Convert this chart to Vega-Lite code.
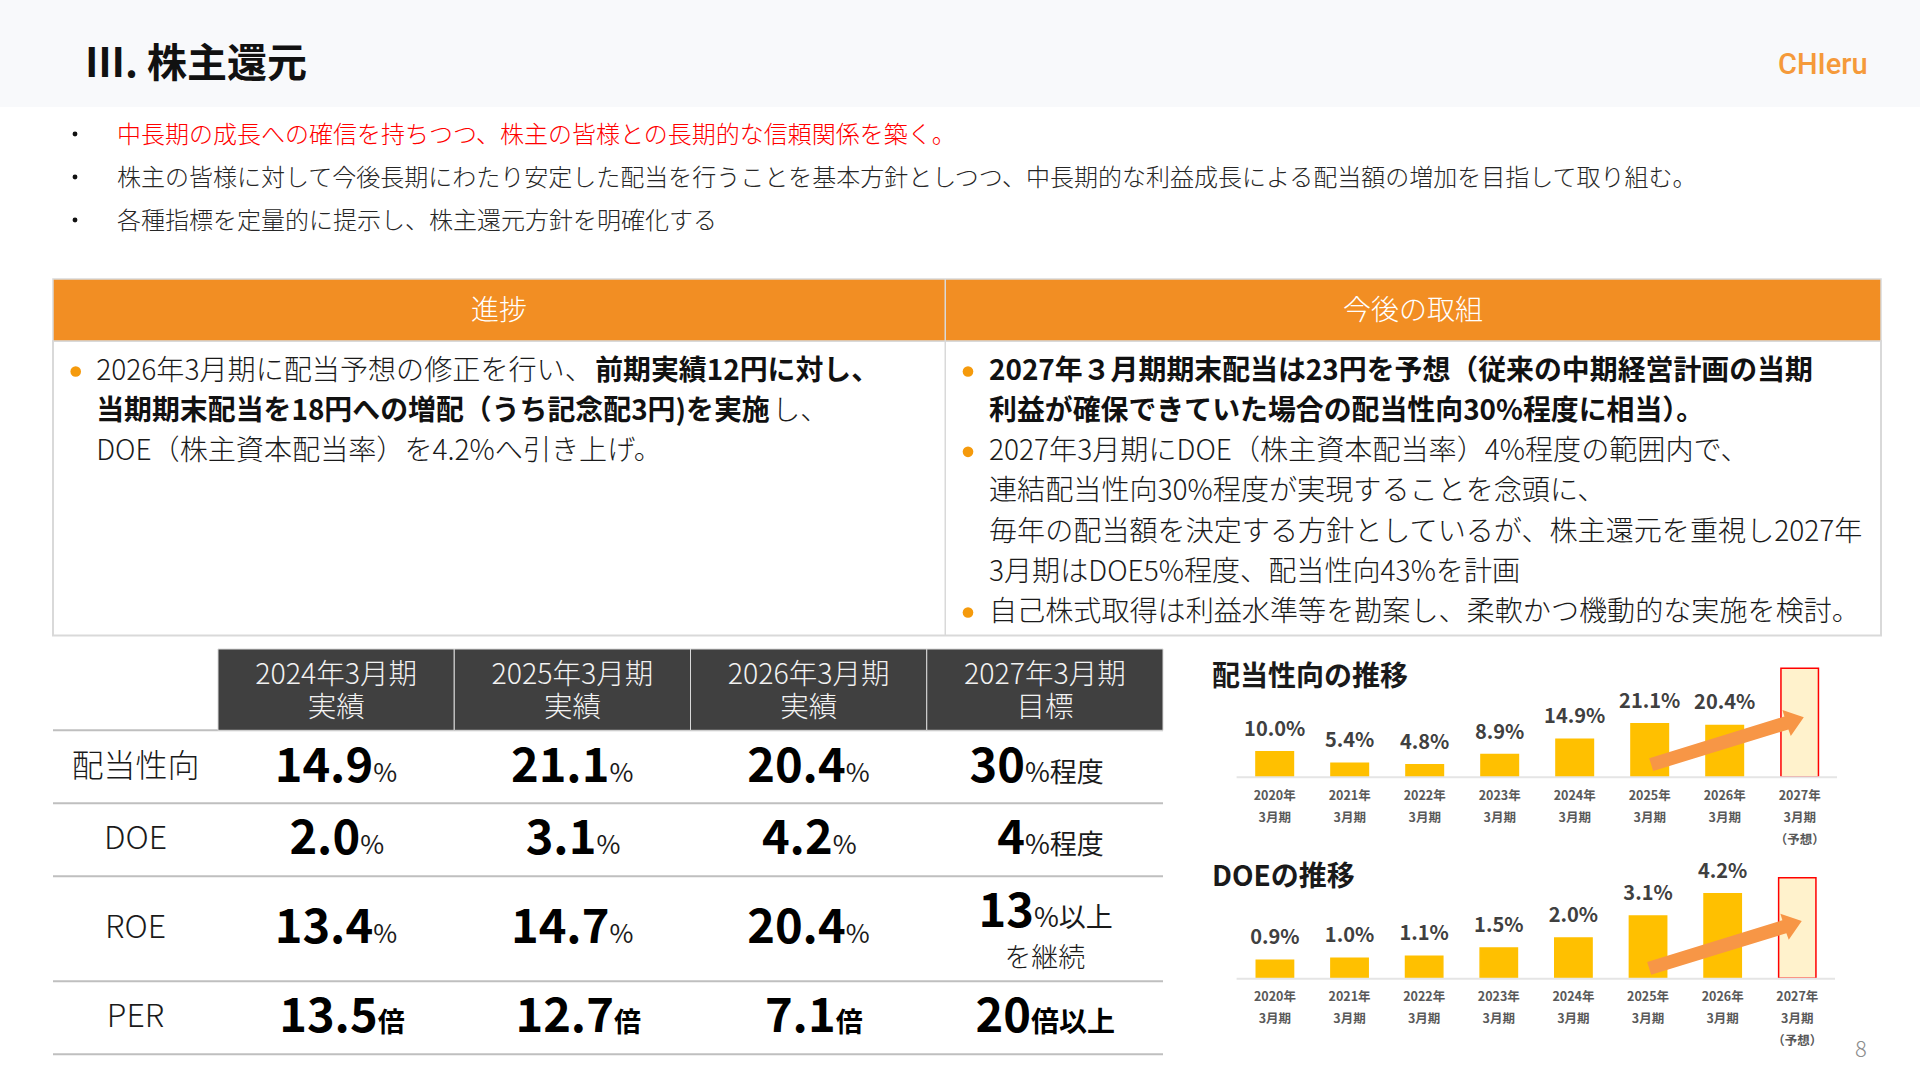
{
  "$schema": "https://vega.github.io/schema/vega-lite/v6.json",
  "width": 1920,
  "height": 1080,
  "padding": 0,
  "autosize": "none",
  "background": "#ffffff",
  "config": {"view": {"stroke": null}, "text": {"font": "Noto Sans CJK JP"}},
  "resolve": {"scale": {"x": "independent", "y": "independent"}},
  "datasets": {
    "periodLabels": [
      {"period": "2020", "row": "year", "label": "2020年"}, {"period": "2020", "row": "month", "label": "3月期"},
      {"period": "2021", "row": "year", "label": "2021年"}, {"period": "2021", "row": "month", "label": "3月期"},
      {"period": "2022", "row": "year", "label": "2022年"}, {"period": "2022", "row": "month", "label": "3月期"},
      {"period": "2023", "row": "year", "label": "2023年"}, {"period": "2023", "row": "month", "label": "3月期"},
      {"period": "2024", "row": "year", "label": "2024年"}, {"period": "2024", "row": "month", "label": "3月期"},
      {"period": "2025", "row": "year", "label": "2025年"}, {"period": "2025", "row": "month", "label": "3月期"},
      {"period": "2026", "row": "year", "label": "2026年"}, {"period": "2026", "row": "month", "label": "3月期"},
      {"period": "2027", "row": "year", "label": "2027年"}, {"period": "2027", "row": "month", "label": "3月期"},
      {"period": "2027", "row": "note", "label": "（予想）"}
    ],
    "payout": [
      {"period": "2020", "value": 10.0, "label": "10.0%", "status": "actual"},
      {"period": "2021", "value": 5.4, "label": "5.4%", "status": "actual"},
      {"period": "2022", "value": 4.8, "label": "4.8%", "status": "actual"},
      {"period": "2023", "value": 8.9, "label": "8.9%", "status": "actual"},
      {"period": "2024", "value": 14.9, "label": "14.9%", "status": "actual"},
      {"period": "2025", "value": 21.1, "label": "21.1%", "status": "actual"},
      {"period": "2026", "value": 20.4, "label": "20.4%", "status": "actual"},
      {"period": "2027", "value": 43, "label": "", "status": "forecast"}
    ],
    "doe": [
      {"period": "2020", "value": 0.9, "label": "0.9%", "status": "actual"},
      {"period": "2021", "value": 1.0, "label": "1.0%", "status": "actual"},
      {"period": "2022", "value": 1.1, "label": "1.1%", "status": "actual"},
      {"period": "2023", "value": 1.5, "label": "1.5%", "status": "actual"},
      {"period": "2024", "value": 2.0, "label": "2.0%", "status": "actual"},
      {"period": "2025", "value": 3.1, "label": "3.1%", "status": "actual"},
      {"period": "2026", "value": 4.2, "label": "4.2%", "status": "actual"},
      {"period": "2027", "value": 5, "label": "", "status": "forecast"}
    ]
  },
  "layer": [
    {
      "data": {"values": [{"part": "header"}]},
      "mark": {"type": "rect", "color": "#f8f9fb"},
      "encoding": {
        "x": {"field": "part", "type": "nominal", "axis": null, "scale": {"type": "band", "range": [0, 1920]}},
        "y": {"field": "part", "type": "nominal", "axis": null, "scale": {"type": "band", "range": [0, 107]}}
      }
    },
    {
      "data": {"values": [{"part": "title", "text": "Ⅲ. 株主還元"}]},
      "mark": {"type": "text", "align": "left", "baseline": "middle", "fontSize": 40, "fontWeight": "bold", "color": "#111111"},
      "encoding": {
        "x": {"field": "part", "type": "nominal", "axis": null, "scale": {"type": "point", "padding": 0, "align": 0, "range": [85, 900]}},
        "y": {"field": "part", "type": "nominal", "axis": null, "scale": {"type": "point", "padding": 0, "align": 0, "range": [64.5, 100]}},
        "text": {"field": "text"}
      }
    },
    {
      "data": {"values": [{"part": "logo", "text": "CHIeru"}]},
      "mark": {"type": "text", "align": "left", "baseline": "middle", "font": "Roboto", "fontSize": 29, "fontWeight": 500, "color": "#f59a3a"},
      "encoding": {
        "x": {"field": "part", "type": "nominal", "axis": null, "scale": {"type": "point", "padding": 0, "align": 0, "range": [1778, 1900]}},
        "y": {"field": "part", "type": "nominal", "axis": null, "scale": {"type": "point", "padding": 0, "align": 0, "range": [65, 100]}},
        "text": {"field": "text"}
      }
    },
    {
      "data": {"values": [{"line": "1"}, {"line": "2"}, {"line": "3"}]},
      "mark": {"type": "circle", "size": 24, "color": "#111111", "opacity": 1},
      "encoding": {
        "y": {"field": "line", "type": "nominal", "axis": null, "scale": {"type": "point", "padding": 0, "domain": ["1", "2", "3"], "range": [134, 220]}},
        "x": {"datum": "bullet", "type": "nominal", "axis": null, "scale": {"type": "point", "padding": 0, "align": 0, "range": [75, 100]}}
      }
    },
    {
      "data": {"values": [
        {"line": "1", "tone": "key", "text": "中長期の成長への確信を持ちつつ、株主の皆様との長期的な信頼関係を築く。"},
        {"line": "2", "tone": "plain", "text": "株主の皆様に対して今後長期にわたり安定した配当を行うことを基本方針としつつ、中長期的な利益成長による配当額の増加を目指して取り組む。"},
        {"line": "3", "tone": "plain", "text": "各種指標を定量的に提示し、株主還元方針を明確化する"}
      ]},
      "mark": {"type": "text", "align": "left", "baseline": "middle", "fontSize": 24, "fontWeight": 300},
      "encoding": {
        "x": {"datum": "lead", "type": "nominal", "axis": null, "scale": {"type": "point", "padding": 0, "align": 0, "range": [117, 1800]}},
        "y": {"field": "line", "type": "nominal", "axis": null, "scale": {"type": "point", "padding": 0, "domain": ["1", "2", "3"], "range": [135.5, 221.5]}},
        "color": {"field": "tone", "type": "nominal", "legend": null, "scale": {"domain": ["key", "plain"], "range": ["#ff0000", "#262626"]}},
        "text": {"field": "text"}
      }
    },
    {
      "data": {"values": [{"part": "body"}]},
      "mark": {"type": "rect", "color": "#ffffff", "stroke": "#d9d9d9", "strokeWidth": 2},
      "encoding": {
        "x": {"field": "part", "type": "nominal", "axis": null, "scale": {"type": "band", "range": [53, 1881]}},
        "y": {"field": "part", "type": "nominal", "axis": null, "scale": {"type": "band", "range": [341, 635.5]}}
      }
    },
    {
      "data": {"values": [{"part": "head"}]},
      "mark": {"type": "rect", "color": "#f28e23", "stroke": "#d9d9d9", "strokeWidth": 1.5},
      "encoding": {
        "x": {"field": "part", "type": "nominal", "axis": null, "scale": {"type": "band", "range": [53, 1881]}},
        "y": {"field": "part", "type": "nominal", "axis": null, "scale": {"type": "band", "range": [279, 341]}}
      }
    },
    {
      "data": {"values": [{"part": "divider"}]},
      "mark": {"type": "rect", "color": "#d9d9d9"},
      "encoding": {
        "x": {"field": "part", "type": "nominal", "axis": null, "scale": {"type": "band", "range": [944.5, 946]}},
        "y": {"field": "part", "type": "nominal", "axis": null, "scale": {"type": "band", "range": [279, 635]}}
      }
    },
    {
      "data": {"values": [{"col": "進捗"}, {"col": "今後の取組"}]},
      "mark": {"type": "text", "align": "center", "baseline": "middle", "fontSize": 28, "fontWeight": 300, "color": "#ffffff"},
      "encoding": {
        "x": {"field": "col", "type": "nominal", "axis": null, "scale": {"type": "point", "padding": 0, "domain": ["進捗", "今後の取組"], "range": [499, 1413]}},
        "y": {"datum": "head", "type": "nominal", "axis": null, "scale": {"type": "point", "padding": 0, "align": 0, "range": [311.5, 340]}},
        "text": {"field": "col"}
      }
    },
    {
      "data": {"values": [
        {"col": "進捗", "line": "1"},
        {"col": "今後の取組", "line": "1"},
        {"col": "今後の取組", "line": "3"},
        {"col": "今後の取組", "line": "7"}
      ]},
      "mark": {"type": "circle", "size": 113, "color": "#f59a0c", "opacity": 1},
      "encoding": {
        "x": {"field": "col", "type": "nominal", "axis": null, "scale": {"type": "point", "padding": 0, "domain": ["進捗", "今後の取組"], "range": [75.7, 968]}},
        "y": {"field": "line", "type": "nominal", "axis": null, "scale": {"type": "point", "padding": 0, "domain": ["1", "2", "3", "4", "5", "6", "7"], "range": [371.5, 612.5]}}
      }
    },
    {
      "data": {"values": [
        {"col": "進捗", "line": "1", "text": "2026年3月期に配当予想の修正を行い、"},
        {"col": "進捗", "line": "3", "text": "DOE（株主資本配当率）を4.2%へ引き上げ。"},
        {"col": "今後の取組", "line": "3", "text": "2027年3月期にDOE（株主資本配当率）4%程度の範囲内で、"},
        {"col": "今後の取組", "line": "4", "text": "連結配当性向30%程度が実現することを念頭に、"},
        {"col": "今後の取組", "line": "5", "text": "毎年の配当額を決定する方針としているが、株主還元を重視し2027年"},
        {"col": "今後の取組", "line": "6", "text": "3月期はDOE5%程度、配当性向43%を計画"},
        {"col": "今後の取組", "line": "7", "text": "自己株式取得は利益水準等を勘案し、柔軟かつ機動的な実施を検討。"}
      ]},
      "mark": {"type": "text", "align": "left", "baseline": "middle", "fontSize": 28.1, "fontWeight": 300, "color": "#1a1a1a"},
      "encoding": {
        "x": {"field": "col", "type": "nominal", "axis": null, "scale": {"type": "point", "padding": 0, "domain": ["進捗", "今後の取組"], "range": [96.2, 989]}},
        "y": {"field": "line", "type": "nominal", "axis": null, "scale": {"type": "point", "padding": 0, "domain": ["1", "2", "3", "4", "5", "6", "7"], "range": [371.5, 613]}},
        "text": {"field": "text"}
      }
    },
    {
      "data": {"values": [
        {"col": "進捗", "line": "2", "text": "当期期末配当を18円への増配（うち記念配3円)を実施"},
        {"col": "今後の取組", "line": "1", "text": "2027年３月期期末配当は23円を予想（従来の中期経営計画の当期"},
        {"col": "今後の取組", "line": "2", "text": "利益が確保できていた場合の配当性向30%程度に相当）。"}
      ]},
      "mark": {"type": "text", "align": "left", "baseline": "middle", "fontSize": 27.9, "fontWeight": "bold", "color": "#111111"},
      "encoding": {
        "x": {"field": "col", "type": "nominal", "axis": null, "scale": {"type": "point", "padding": 0, "domain": ["進捗", "今後の取組"], "range": [96.2, 989]}},
        "y": {"field": "line", "type": "nominal", "axis": null, "scale": {"type": "point", "padding": 0, "domain": ["1", "2", "3", "4", "5", "6", "7"], "range": [371.5, 613]}},
        "text": {"field": "text"}
      }
    },
    {
      "data": {"values": [{"col": "進捗", "line": "1", "text": "前期実績12円に対し、"}]},
      "mark": {"type": "text", "align": "left", "baseline": "middle", "fontSize": 27.9, "fontWeight": "bold", "color": "#111111", "dx": 499},
      "encoding": {
        "x": {"field": "col", "type": "nominal", "axis": null, "scale": {"type": "point", "padding": 0, "domain": ["進捗", "今後の取組"], "range": [96.2, 989]}},
        "y": {"field": "line", "type": "nominal", "axis": null, "scale": {"type": "point", "padding": 0, "domain": ["1", "2", "3", "4", "5", "6", "7"], "range": [371.5, 613]}},
        "text": {"field": "text"}
      }
    },
    {
      "data": {"values": [{"col": "進捗", "line": "2", "text": "し、"}]},
      "mark": {"type": "text", "align": "left", "baseline": "middle", "fontSize": 28, "fontWeight": 300, "color": "#1a1a1a", "dx": 676},
      "encoding": {
        "x": {"field": "col", "type": "nominal", "axis": null, "scale": {"type": "point", "padding": 0, "domain": ["進捗", "今後の取組"], "range": [96.2, 989]}},
        "y": {"field": "line", "type": "nominal", "axis": null, "scale": {"type": "point", "padding": 0, "domain": ["1", "2", "3", "4", "5", "6", "7"], "range": [371.5, 613]}},
        "text": {"field": "text"}
      }
    },
    {
      "data": {"values": [{"rule": "top"}, {"rule": "payout"}, {"rule": "doe"}]},
      "mark": {"type": "tick", "orient": "horizontal", "size": 1110, "thickness": 2, "color": "#bfbfbf", "opacity": 1},
      "encoding": {
        "x": {"datum": "table", "type": "nominal", "axis": null, "scale": {"type": "point", "padding": 0.5, "range": [53, 1163]}},
        "y": {"field": "rule", "type": "nominal", "axis": null, "scale": {"type": "point", "padding": 0, "domain": ["top", "payout", "doe"], "range": [730.3, 876.3]}}
      }
    },
    {
      "data": {"values": [{"rule": "roe"}, {"rule": "per"}]},
      "mark": {"type": "tick", "orient": "horizontal", "size": 1110, "thickness": 2, "color": "#bfbfbf", "opacity": 1},
      "encoding": {
        "x": {"datum": "table", "type": "nominal", "axis": null, "scale": {"type": "point", "padding": 0.5, "range": [53, 1163]}},
        "y": {"field": "rule", "type": "nominal", "axis": null, "scale": {"type": "point", "padding": 0, "domain": ["roe", "per"], "range": [981.3, 1054.3]}}
      }
    },
    {
      "data": {"values": [
        {"fiscal": "2024年3月期"}, {"fiscal": "2025年3月期"}, {"fiscal": "2026年3月期"}, {"fiscal": "2027年3月期"}
      ]},
      "mark": {"type": "rect", "color": "#404040", "stroke": "#d9d9d9", "strokeWidth": 1},
      "encoding": {
        "x": {"field": "fiscal", "type": "nominal", "axis": null, "scale": {"type": "band", "paddingInner": 0, "paddingOuter": 0, "range": [218, 1163]}},
        "y": {"datum": "head", "type": "nominal", "axis": null, "scale": {"type": "band", "range": [649, 730.3]}}
      }
    },
    {
      "data": {"values": [
        {"fiscal": "2024年3月期", "row": "fiscal", "text": "2024年3月期"},
        {"fiscal": "2025年3月期", "row": "fiscal", "text": "2025年3月期"},
        {"fiscal": "2026年3月期", "row": "fiscal", "text": "2026年3月期"},
        {"fiscal": "2027年3月期", "row": "fiscal", "text": "2027年3月期"},
        {"fiscal": "2024年3月期", "row": "kind", "text": "実績"},
        {"fiscal": "2025年3月期", "row": "kind", "text": "実績"},
        {"fiscal": "2026年3月期", "row": "kind", "text": "実績"},
        {"fiscal": "2027年3月期", "row": "kind", "text": "目標"}
      ]},
      "mark": {"type": "text", "align": "center", "baseline": "middle", "fontSize": 28.5, "fontWeight": 300, "color": "#f2f2f2"},
      "encoding": {
        "x": {"field": "fiscal", "type": "nominal", "axis": null, "scale": {"type": "band", "paddingInner": 0, "paddingOuter": 0, "range": [218, 1163]}},
        "y": {"field": "row", "type": "nominal", "axis": null, "scale": {"type": "point", "padding": 0, "domain": ["fiscal", "kind"], "range": [674.5, 707.5]}},
        "text": {"field": "text"}
      }
    },
    {
      "data": {"values": [{"metric": "配当性向"}, {"metric": "DOE"}, {"metric": "ROE"}, {"metric": "PER"}]},
      "mark": {"type": "text", "align": "center", "baseline": "alphabetic", "fontSize": 32, "fontWeight": 300, "color": "#1a1a1a", "dy": -6},
      "encoding": {
        "x": {"datum": "label", "type": "nominal", "axis": null, "scale": {"type": "point", "padding": 0.5, "range": [53, 218]}},
        "y": {"field": "metric", "type": "nominal", "axis": null, "scale": {"type": "point", "padding": 0, "domain": ["配当性向", "s1", "s2", "s3", "DOE", "s4", "s5", "s6", "s7", "ROE", "s8", "s9", "s10", "s11", "PER"], "range": [783, 1033.3]}},
        "text": {"field": "metric"}
      }
    },
    {
      "data": {"values": [
        {"fiscal": "2024年3月期", "metric": "配当性向", "value": "14.9"},
        {"fiscal": "2025年3月期", "metric": "配当性向", "value": "21.1"},
        {"fiscal": "2026年3月期", "metric": "配当性向", "value": "20.4"},
        {"fiscal": "2024年3月期", "metric": "ROE", "value": "13.4"},
        {"fiscal": "2025年3月期", "metric": "ROE", "value": "14.7"},
        {"fiscal": "2026年3月期", "metric": "ROE", "value": "20.4"}
      ]},
      "layer": [
        {"mark": {"type": "text", "align": "right", "baseline": "alphabetic", "fontSize": 47, "fontWeight": "bold", "color": "#000000", "dx": 37}, "encoding": {"text": {"field": "value"}}},
        {"mark": {"type": "text", "align": "left", "baseline": "alphabetic", "fontSize": 26, "fontWeight": 400, "color": "#1a1a1a", "dx": 37}, "encoding": {"text": {"value": "%"}}}
      ],
      "encoding": {
        "x": {"field": "fiscal", "type": "nominal", "axis": null, "scale": {"type": "band", "paddingInner": 0, "paddingOuter": 0, "domain": ["2024年3月期", "2025年3月期", "2026年3月期", "2027年3月期"], "range": [218, 1163]}},
        "y": {"field": "metric", "type": "nominal", "axis": null, "scale": {"type": "point", "padding": 0, "domain": ["配当性向", "s1", "s2", "s3", "DOE", "s4", "s5", "s6", "s7", "ROE", "s8", "s9", "s10", "s11", "PER"], "range": [782, 1032.3]}}
      }
    },
    {
      "data": {"values": [
        {"fiscal": "2024年3月期", "metric": "DOE", "value": "2.0"},
        {"fiscal": "2025年3月期", "metric": "DOE", "value": "3.1"},
        {"fiscal": "2026年3月期", "metric": "DOE", "value": "4.2"}
      ]},
      "layer": [
        {"mark": {"type": "text", "align": "right", "baseline": "alphabetic", "fontSize": 47, "fontWeight": "bold", "color": "#000000", "dx": 24}, "encoding": {"text": {"field": "value"}}},
        {"mark": {"type": "text", "align": "left", "baseline": "alphabetic", "fontSize": 26, "fontWeight": 400, "color": "#1a1a1a", "dx": 24}, "encoding": {"text": {"value": "%"}}}
      ],
      "encoding": {
        "x": {"field": "fiscal", "type": "nominal", "axis": null, "scale": {"type": "band", "paddingInner": 0, "paddingOuter": 0, "domain": ["2024年3月期", "2025年3月期", "2026年3月期", "2027年3月期"], "range": [218, 1163]}},
        "y": {"field": "metric", "type": "nominal", "axis": null, "scale": {"type": "point", "padding": 0, "domain": ["配当性向", "s1", "s2", "s3", "DOE", "s4", "s5", "s6", "s7", "ROE", "s8", "s9", "s10", "s11", "PER"], "range": [782, 1032.3]}}
      }
    },
    {
      "data": {"values": [
        {"fiscal": "2024年3月期", "metric": "PER", "value": "13.5"},
        {"fiscal": "2025年3月期", "metric": "PER", "value": "12.7"}
      ]},
      "layer": [
        {"mark": {"type": "text", "align": "right", "baseline": "alphabetic", "fontSize": 47, "fontWeight": "bold", "color": "#000000", "dx": 41.5}, "encoding": {"text": {"field": "value"}}},
        {"mark": {"type": "text", "align": "left", "baseline": "alphabetic", "fontSize": 27, "fontWeight": "bold", "color": "#000000", "dx": 41.5}, "encoding": {"text": {"value": "倍"}}}
      ],
      "encoding": {
        "x": {"field": "fiscal", "type": "nominal", "axis": null, "scale": {"type": "band", "paddingInner": 0, "paddingOuter": 0, "domain": ["2024年3月期", "2025年3月期", "2026年3月期", "2027年3月期"], "range": [218, 1163]}},
        "y": {"field": "metric", "type": "nominal", "axis": null, "scale": {"type": "point", "padding": 0, "domain": ["配当性向", "s1", "s2", "s3", "DOE", "s4", "s5", "s6", "s7", "ROE", "s8", "s9", "s10", "s11", "PER"], "range": [782, 1032.3]}}
      }
    },
    {
      "data": {"values": [{"fiscal": "2026年3月期", "metric": "PER", "value": "7.1"}]},
      "layer": [
        {"mark": {"type": "text", "align": "right", "baseline": "alphabetic", "fontSize": 47, "fontWeight": "bold", "color": "#000000", "dx": 27}, "encoding": {"text": {"field": "value"}}},
        {"mark": {"type": "text", "align": "left", "baseline": "alphabetic", "fontSize": 27, "fontWeight": "bold", "color": "#000000", "dx": 27}, "encoding": {"text": {"value": "倍"}}}
      ],
      "encoding": {
        "x": {"field": "fiscal", "type": "nominal", "axis": null, "scale": {"type": "band", "paddingInner": 0, "paddingOuter": 0, "domain": ["2024年3月期", "2025年3月期", "2026年3月期", "2027年3月期"], "range": [218, 1163]}},
        "y": {"field": "metric", "type": "nominal", "axis": null, "scale": {"type": "point", "padding": 0, "domain": ["配当性向", "s1", "s2", "s3", "DOE", "s4", "s5", "s6", "s7", "ROE", "s8", "s9", "s10", "s11", "PER"], "range": [782, 1032.3]}}
      }
    },
    {
      "data": {"values": [
        {"fiscal": "2027年3月期", "metric": "配当性向", "value": "30", "unit": "%程度"},
        {"fiscal": "2027年3月期", "metric": "DOE", "value": "4", "unit": "%程度"}
      ]},
      "layer": [
        {"mark": {"type": "text", "align": "right", "baseline": "alphabetic", "fontSize": 47, "fontWeight": "bold", "color": "#000000", "dx": -20}, "encoding": {"text": {"field": "value"}}},
        {"mark": {"type": "text", "align": "left", "baseline": "alphabetic", "fontSize": 27, "fontWeight": 400, "color": "#1a1a1a", "dx": -20}, "encoding": {"text": {"field": "unit"}}}
      ],
      "encoding": {
        "x": {"field": "fiscal", "type": "nominal", "axis": null, "scale": {"type": "band", "paddingInner": 0, "paddingOuter": 0, "domain": ["2024年3月期", "2025年3月期", "2026年3月期", "2027年3月期"], "range": [218, 1163]}},
        "y": {"field": "metric", "type": "nominal", "axis": null, "scale": {"type": "point", "padding": 0, "domain": ["配当性向", "s1", "s2", "s3", "DOE", "s4", "s5", "s6", "s7", "ROE", "s8", "s9", "s10", "s11", "PER"], "range": [782, 1032.3]}}
      }
    },
    {
      "data": {"values": [{"fiscal": "2027年3月期", "metric": "ROE", "value": "13", "unit": "%以上", "note": "を継続"}]},
      "layer": [
        {"mark": {"type": "text", "align": "right", "baseline": "alphabetic", "fontSize": 47, "fontWeight": "bold", "color": "#000000", "dx": -11, "dy": -16}, "encoding": {"text": {"field": "value"}}},
        {"mark": {"type": "text", "align": "left", "baseline": "alphabetic", "fontSize": 27, "fontWeight": 400, "color": "#1a1a1a", "dx": -11, "dy": -16}, "encoding": {"text": {"field": "unit"}}},
        {"mark": {"type": "text", "align": "center", "baseline": "alphabetic", "fontSize": 27, "fontWeight": 300, "color": "#1a1a1a", "dy": 24}, "encoding": {"text": {"field": "note"}}}
      ],
      "encoding": {
        "x": {"field": "fiscal", "type": "nominal", "axis": null, "scale": {"type": "band", "paddingInner": 0, "paddingOuter": 0, "domain": ["2024年3月期", "2025年3月期", "2026年3月期", "2027年3月期"], "range": [218, 1163]}},
        "y": {"field": "metric", "type": "nominal", "axis": null, "scale": {"type": "point", "padding": 0, "domain": ["配当性向", "s1", "s2", "s3", "DOE", "s4", "s5", "s6", "s7", "ROE", "s8", "s9", "s10", "s11", "PER"], "range": [782, 1032.3]}}
      }
    },
    {
      "data": {"values": [{"fiscal": "2027年3月期", "metric": "PER", "value": "20", "unit": "倍以上"}]},
      "layer": [
        {"mark": {"type": "text", "align": "right", "baseline": "alphabetic", "fontSize": 47, "fontWeight": "bold", "color": "#000000", "dx": -14}, "encoding": {"text": {"field": "value"}}},
        {"mark": {"type": "text", "align": "left", "baseline": "alphabetic", "fontSize": 28, "fontWeight": "bold", "color": "#000000", "dx": -14}, "encoding": {"text": {"field": "unit"}}}
      ],
      "encoding": {
        "x": {"field": "fiscal", "type": "nominal", "axis": null, "scale": {"type": "band", "paddingInner": 0, "paddingOuter": 0, "domain": ["2024年3月期", "2025年3月期", "2026年3月期", "2027年3月期"], "range": [218, 1163]}},
        "y": {"field": "metric", "type": "nominal", "axis": null, "scale": {"type": "point", "padding": 0, "domain": ["配当性向", "s1", "s2", "s3", "DOE", "s4", "s5", "s6", "s7", "ROE", "s8", "s9", "s10", "s11", "PER"], "range": [782, 1032.3]}}
      }
    },
    {
      "data": {"values": [{"chart": "配当性向の推移"}, {"chart": "DOEの推移"}]},
      "mark": {"type": "text", "align": "left", "baseline": "middle", "fontSize": 28, "fontWeight": "bold", "color": "#1a1a1a"},
      "encoding": {
        "x": {"datum": "chartTitle", "type": "nominal", "axis": null, "scale": {"type": "point", "padding": 0, "align": 0, "range": [1212, 1800]}},
        "y": {"field": "chart", "type": "nominal", "axis": null, "scale": {"type": "point", "padding": 0, "domain": ["配当性向の推移", "DOEの推移"], "range": [678, 878]}},
        "text": {"field": "chart"}
      }
    },
    {
      "data": {"name": "payout"},
      "layer": [
        {
          "mark": {"type": "bar", "strokeWidth": 1.5},
          "encoding": {
            "y": {"field": "value", "type": "quantitative", "axis": null, "scale": {"domain": [0, 43], "nice": false, "range": [777, 668.3]}},
            "fill": {"field": "status", "type": "nominal", "legend": null, "scale": {"domain": ["actual", "forecast"], "range": ["#ffc000", "#fff2cc"]}},
            "stroke": {"field": "status", "type": "nominal", "legend": null, "scale": {"domain": ["actual", "forecast"], "range": ["#ffc000", "#ff0000"]}}
          }
        },
        {
          "mark": {"type": "text", "baseline": "middle", "fontSize": 20, "fontWeight": "bold", "color": "#404040", "dy": -22},
          "encoding": {
            "y": {"field": "value", "type": "quantitative", "axis": null, "scale": {"domain": [0, 43], "nice": false, "range": [777, 668.3]}},
            "text": {"field": "label"}
          }
        }
      ],
      "encoding": {
        "x": {"field": "period", "type": "nominal", "axis": null, "scale": {"type": "band", "paddingInner": 0.5, "paddingOuter": 0.25, "domain": ["2020", "2021", "2022", "2023", "2024", "2025", "2026", "2027"], "range": [1237.2, 1837.2]}}
      }
    },
    {
      "data": {"values": [{"line": "baseline"}]},
      "mark": {"type": "rect", "color": "#e5e5e5"},
      "encoding": {
        "x": {"field": "line", "type": "nominal", "axis": null, "scale": {"type": "band", "range": [1236.6, 1837]}},
        "y": {"field": "line", "type": "nominal", "axis": null, "scale": {"type": "band", "range": [776.3, 778.3]}}
      }
    },
    {
      "data": {"values": [{"period": "2026", "value": 20}]},
      "mark": {"type": "point", "shape": "M-75.5,31.9L-71.5,44.7L63.7,3.2L66.1,9.7L79.1,-9L57.7,-16.3L59.7,-9.8Z", "size": 4, "filled": true, "color": "#f79646", "opacity": 1},
      "encoding": {
        "x": {"field": "period", "type": "nominal", "axis": null, "scale": {"type": "band", "paddingInner": 0.5, "paddingOuter": 0.25, "domain": ["2020", "2021", "2022", "2023", "2024", "2025", "2026", "2027"], "range": [1237.2, 1837.2]}},
        "y": {"field": "value", "type": "quantitative", "axis": null, "scale": {"domain": [0, 43], "nice": false, "range": [776.7, 668.3]}}
      }
    },
    {
      "data": {"name": "periodLabels"},
      "mark": {"type": "text", "baseline": "middle", "fontSize": 12.5, "fontWeight": "bold", "color": "#595959"},
      "encoding": {
        "x": {"field": "period", "type": "nominal", "axis": null, "scale": {"type": "band", "paddingInner": 0.5, "paddingOuter": 0.25, "domain": ["2020", "2021", "2022", "2023", "2024", "2025", "2026", "2027"], "range": [1237.2, 1837.2]}},
        "y": {"field": "row", "type": "nominal", "axis": null, "scale": {"type": "point", "padding": 0, "domain": ["year", "month", "note"], "range": [795.5, 840]}},
        "text": {"field": "label"}
      }
    },
    {
      "data": {"name": "doe"},
      "layer": [
        {
          "mark": {"type": "bar", "strokeWidth": 1.5},
          "encoding": {
            "y": {"field": "value", "type": "quantitative", "axis": null, "scale": {"domain": [0, 5], "nice": false, "range": [978.3, 877.7]}},
            "fill": {"field": "status", "type": "nominal", "legend": null, "scale": {"domain": ["actual", "forecast"], "range": ["#ffc000", "#fff2cc"]}},
            "stroke": {"field": "status", "type": "nominal", "legend": null, "scale": {"domain": ["actual", "forecast"], "range": ["#ffc000", "#ff0000"]}}
          }
        },
        {
          "mark": {"type": "text", "baseline": "middle", "fontSize": 20, "fontWeight": "bold", "color": "#404040", "dy": -22},
          "encoding": {
            "y": {"field": "value", "type": "quantitative", "axis": null, "scale": {"domain": [0, 5], "nice": false, "range": [978.3, 877.7]}},
            "text": {"field": "label"}
          }
        }
      ],
      "encoding": {
        "x": {"field": "period", "type": "nominal", "axis": null, "scale": {"type": "band", "paddingInner": 0.5, "paddingOuter": 0.25, "domain": ["2020", "2021", "2022", "2023", "2024", "2025", "2026", "2027"], "range": [1237.6, 1834.6]}}
      }
    },
    {
      "data": {"values": [{"line": "baseline"}]},
      "mark": {"type": "rect", "color": "#e5e5e5"},
      "encoding": {
        "x": {"field": "line", "type": "nominal", "axis": null, "scale": {"type": "band", "range": [1236.6, 1835]}},
        "y": {"field": "line", "type": "nominal", "axis": null, "scale": {"type": "band", "range": [977.7, 979.7]}}
      }
    },
    {
      "data": {"values": [{"period": "2026", "value": 2.4}]},
      "mark": {"type": "point", "shape": "M-75.5,31.9L-71.5,44.7L63.7,3.2L66.1,9.7L79.1,-9L57.7,-16.3L59.7,-9.8Z", "size": 4, "filled": true, "color": "#f79646", "opacity": 1},
      "encoding": {
        "x": {"field": "period", "type": "nominal", "axis": null, "scale": {"type": "band", "paddingInner": 0.5, "paddingOuter": 0.25, "domain": ["2020", "2021", "2022", "2023", "2024", "2025", "2026", "2027"], "range": [1237.6, 1834.6]}},
        "y": {"field": "value", "type": "quantitative", "axis": null, "scale": {"domain": [0, 5], "nice": false, "range": [978.3, 877.7]}}
      }
    },
    {
      "data": {"name": "periodLabels"},
      "mark": {"type": "text", "baseline": "middle", "fontSize": 12.5, "fontWeight": "bold", "color": "#595959"},
      "encoding": {
        "x": {"field": "period", "type": "nominal", "axis": null, "scale": {"type": "band", "paddingInner": 0.5, "paddingOuter": 0.25, "domain": ["2020", "2021", "2022", "2023", "2024", "2025", "2026", "2027"], "range": [1237.6, 1834.6]}},
        "y": {"field": "row", "type": "nominal", "axis": null, "scale": {"type": "point", "padding": 0, "domain": ["year", "month", "note"], "range": [997, 1040.5]}},
        "text": {"field": "label"}
      }
    },
    {
      "data": {"values": [{"page": "8"}]},
      "mark": {"type": "text", "align": "center", "baseline": "middle", "fontSize": 22, "fontWeight": 300, "color": "#8c8c8c"},
      "encoding": {
        "x": {"field": "page", "type": "nominal", "axis": null, "scale": {"type": "point", "padding": 0, "align": 0, "range": [1861, 1900]}},
        "y": {"field": "page", "type": "nominal", "axis": null, "scale": {"type": "point", "padding": 0, "align": 0, "range": [1050, 1070]}},
        "text": {"field": "page"}
      }
    }
  ]
}
